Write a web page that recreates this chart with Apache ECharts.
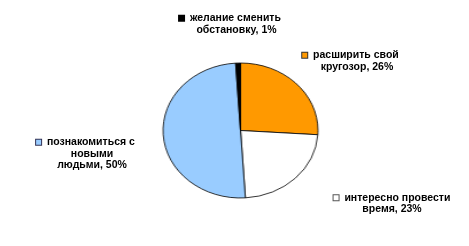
<!DOCTYPE html>
<html><head><meta charset="utf-8">
<script src="https://cdn.jsdelivr.net/npm/echarts@6/dist/echarts.min.js"></script>
<style>
html,body{margin:0;padding:0;background:#fff;}
#wrap{position:relative;width:469px;height:246px;overflow:hidden;}
#pie,#lab{position:absolute;left:0;top:0;width:469px;height:246px;}
#pie{transform:scaleX(1.148);transform-origin:240.5px 130.5px;}
</style></head>
<body><div id="wrap"><div id="pie"></div><div id="lab"></div></div>
<script>
const categories = ['расширить свой\nкругозор', 'интересно провести\nвремя', 'познакомиться с\nновыми\nлюдьми', 'желание сменить\nобстановку'];
const values = [26, 23, 50, 1];
const colors = ['#FF9900', '#FFFFFF', '#99CCFF', '#000000'];
const markerBorders = ['#333333', '#555555', '#333355', '#000000'];
const labelPos = [[357, 49.5], [392, 192], [92, 136.5], [236.5, 12.5]];

const data = categories.map((c, i) => ({ name: c, value: values[i], itemStyle: { color: colors[i] } }));

const pie = echarts.init(document.getElementById('pie'), null, { renderer: 'canvas' });
pie.setOption({
  animation: false,
  series: [{
    type: 'pie', center: [240.5, 130.5], radius: 67.5, startAngle: 90, clockwise: true,
    label: { show: false }, labelLine: { show: false }, silent: true,
    itemStyle: { borderColor: '#000', borderWidth: 0.8 },
    data: data
  }]
});

const rich = { t: { fontFamily: 'Arial, Liberation Sans', fontWeight: 'bold', fontSize: 10.5, color: '#000', lineHeight: 11.5 },
  pad: { width: 13, lineHeight: 11.5 } };
colors.forEach((c, i) => {
  rich['m' + i] = { width: 5, height: 5, backgroundColor: c, borderColor: markerBorders[i], borderWidth: 1, lineHeight: 11.5 };
});

const lab = echarts.init(document.getElementById('lab'), null, { renderer: 'canvas' });
lab.setOption({
  animation: false,
  series: [{
    type: 'pie', center: [240.5, 130.5], radius: 67.5, startAngle: 90, clockwise: true, silent: true,
    itemStyle: { color: 'rgba(0,0,0,0)', borderWidth: 0 },
    emphasis: { disabled: true },
    labelLine: { show: false },
    label: {
      show: true, position: 'outside', align: 'center', lineHeight: 11.5,
      formatter: function (p) {
        const lines = (p.name + ', ' + p.value + '%').split('\n');
        let s = '{m' + p.dataIndex + '|}{t|  ' + lines[0] + '}{pad|}';
        for (let k = 1; k < lines.length; k++) s += '\n{t|' + lines[k] + '}';
        return s;
      },
      rich: rich
    },
    labelLayout: function (p) {
      const pos = labelPos[p.dataIndex];
      return { x: pos[0], y: pos[1], align: 'center', verticalAlign: 'top' };
    },
    data: data.map(d => ({ name: d.name, value: d.value }))
  }]
});
</script></body></html>
